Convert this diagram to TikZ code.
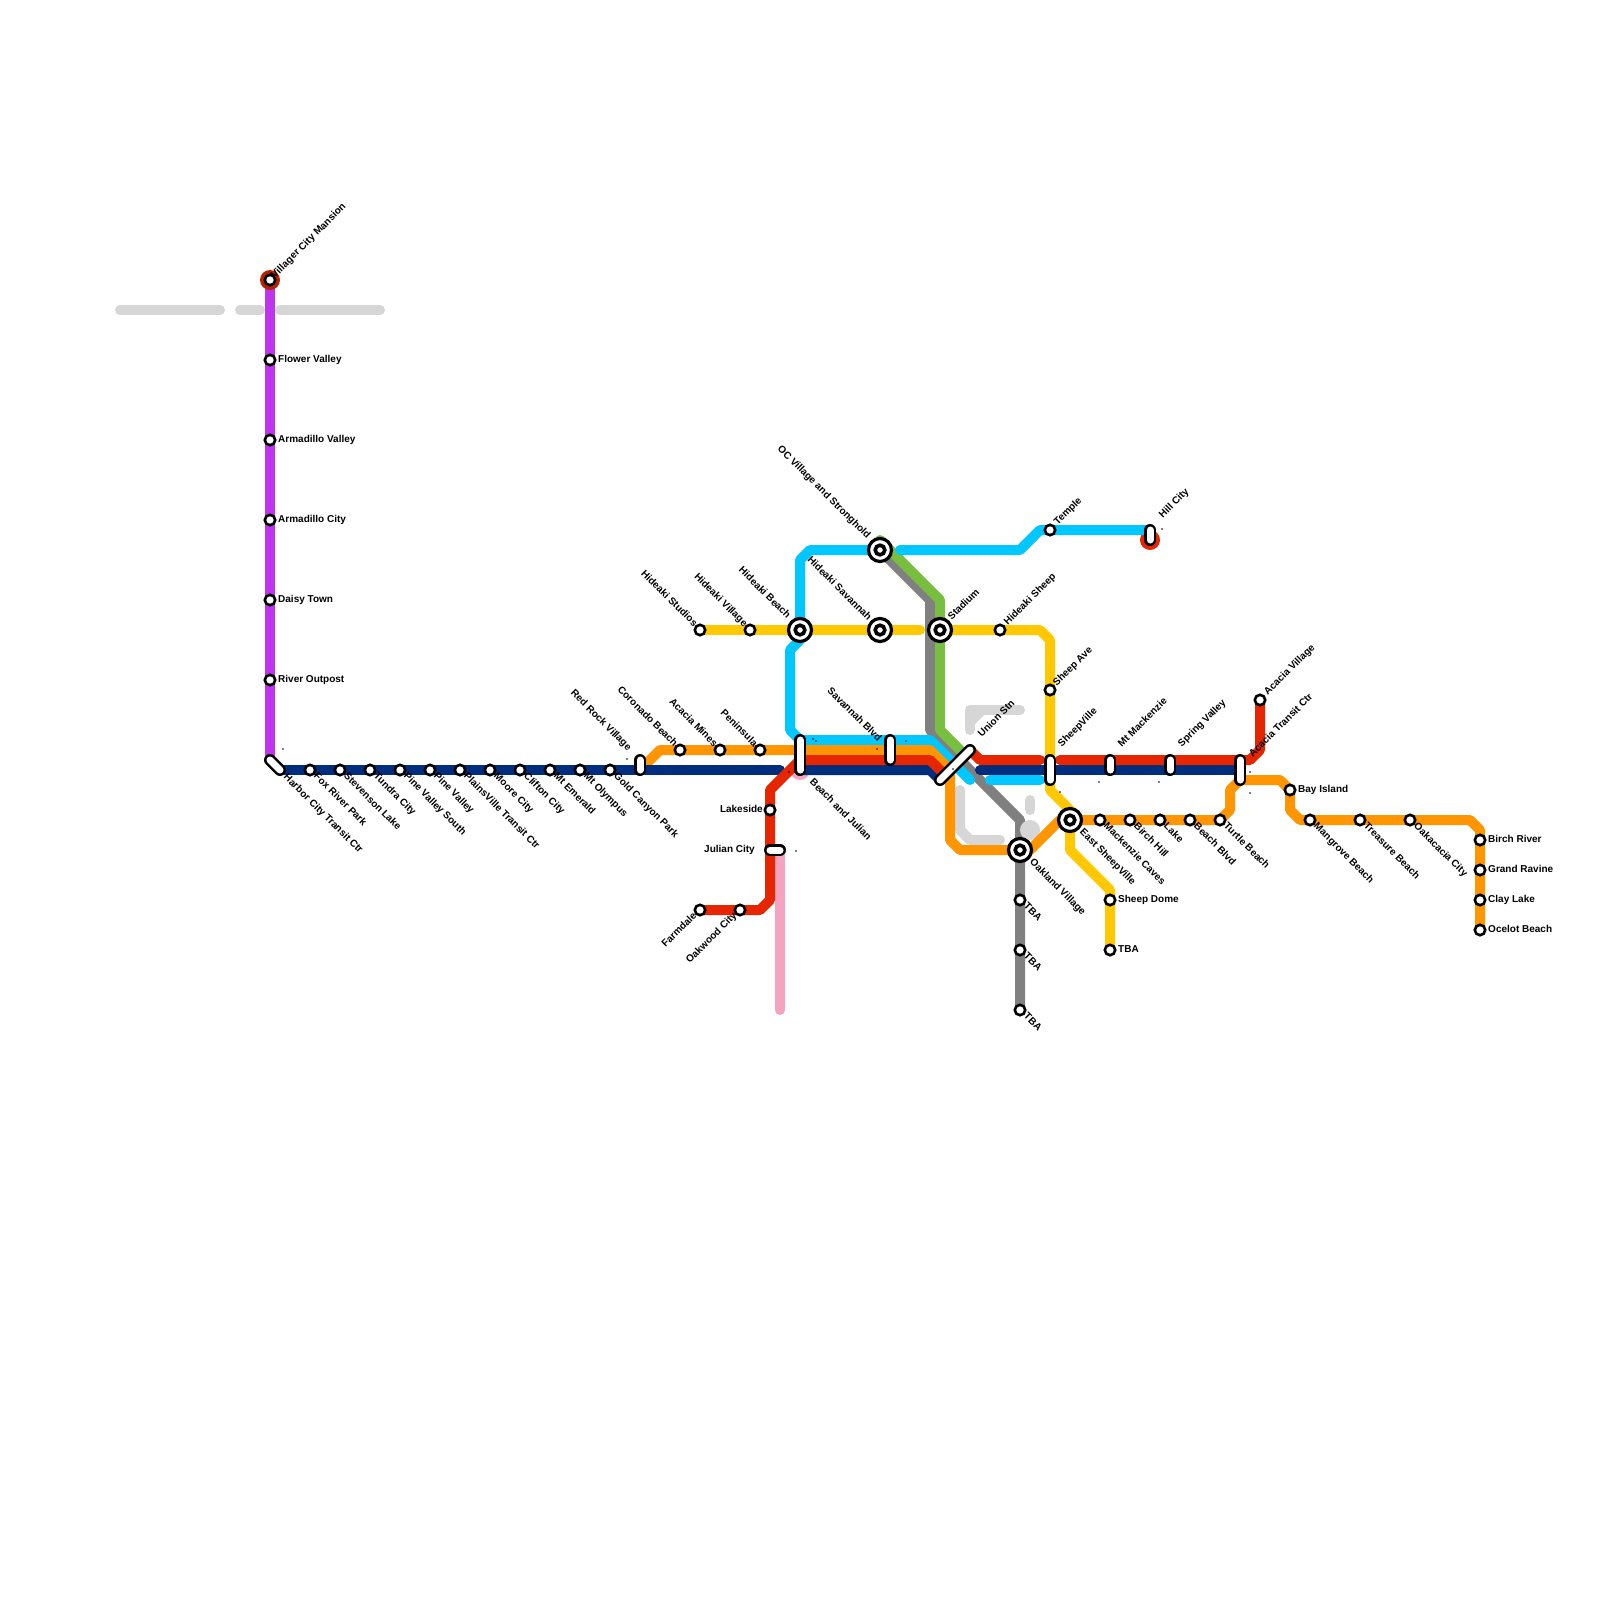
\documentclass[tikz,border=0pt]{standalone}
\usepackage{fontspec}
\setmainfont{Liberation Sans}
\usetikzlibrary{backgrounds}
\definecolor{purpleln}{HTML}{BF35EF}
\definecolor{navyln}{HTML}{002D7C}
\definecolor{redln}{HTML}{E52600}
\definecolor{darkredln}{HTML}{B52200}
\definecolor{orangeln}{HTML}{FF9500}
\definecolor{blueln}{HTML}{00C7FF}
\definecolor{yellowln}{HTML}{FFC800}
\definecolor{greenln}{HTML}{78BE40}
\definecolor{grayln}{HTML}{808080}
\definecolor{ghostln}{HTML}{D6D6D6}
\definecolor{pinkln}{HTML}{F5A3C0}
\tikzset{
  metro/.style={line width=10pt,line cap=round,line join=round},
  stn/.style={circle,draw=black,line width=2.6pt,fill=white,inner sep=0pt,minimum size=10.4pt},
  hub/.style={circle,draw=black,line width=3.2pt,fill=white,inner sep=0pt,minimum size=23pt,
    path picture={\draw[line width=3.6pt] (path picture bounding box.center) circle (4.8pt);}},
  pill/.style={line width=2.5pt,double=white,double distance=7pt,line cap=round},
  lbl/.style={font=\fontsize{10}{10}\selectfont\bfseries,inner sep=0pt,text height=7pt,text depth=2pt},
  lblne/.style={lbl,anchor=west,xshift=5pt,yshift=5pt,rotate=45},
  lblse/.style={lbl,anchor=west,xshift=5pt,yshift=-5pt,rotate=-45},
  lblnw/.style={lbl,anchor=east,xshift=-4.5pt,yshift=4.5pt,rotate=-45},
  lblsw/.style={lbl,anchor=east,xshift=-4.5pt,yshift=-4.5pt,rotate=45},
  lblr/.style={lbl,anchor=west,xshift=8pt},
  lbll/.style={lbl,anchor=east,xshift=-7pt},
}
\begin{document}
\begin{tikzpicture}[x=1pt,y=-1pt]
  \useasboundingbox (0,0) rectangle (1600,1600);
  % labels
  \node[lblne] (villagert) at (268,282) {Villager City Mansion};
  \node[lblr] (flowert) at (270,360) {Flower Valley};
  \node[lblr] (armvalleyt) at (270,440) {Armadillo Valley};
  \node[lblr] (armcityt) at (270,520) {Armadillo City};
  \node[lblr] (daisyt) at (270,600) {Daisy Town};
  \node[lblr] (outpostt) at (270,680) {River Outpost};
  \node[lblse] (harbort) at (280,771) {Harbor City Transit Ctr};
  \node[lblse] (foxt) at (310,770) {Fox River Park};
  \node[lblse] (stevensont) at (340,770) {Stevenson Lake};
  \node[lblse] (tundrat) at (370,770) {Tundra City};
  \node[lblse] (pinesoutht) at (400,770) {Pine Valley South};
  \node[lblse] (pinet) at (430,770) {Pine Valley};
  \node[lblse] (plainst) at (460,770) {PlainsVille Transit Ctr};
  \node[lblse] (mooret) at (490,770) {Moore City};
  \node[lblse] (cliftont) at (520,770) {Clifton City};
  \node[lblse] (emeraldt) at (550,770) {Mt Emerald};
  \node[lblse] (olympust) at (580,770) {Mt Olympus};
  \node[lblse] (goldt) at (610,770) {Gold Canyon Park};
  \node[lblnw] (redrockt) at (634,754) {Red Rock Village};
  \node[lblnw] (coronadot) at (680,750) {Coronado Beach};
  \node[lblnw] (acaciaminest) at (720,750) {Acacia Mines};
  \node[lblnw] (peninsulat) at (760,750) {Peninsula};
  \node[lblnw] (savblvdt) at (884,745) {Savannah Blvd};
  \node[lblse] (beachjt) at (806,776) {Beach and Julian};
  \node[lbll] (lakesidet) at (770,810) {Lakeside};
  \node[lbll] (juliant) at (762,850) {Julian City};
  \node[lblsw] (farmdalet) at (700,910) {Farmdale};
  \node[lblsw] (oakwoodt) at (740,910) {Oakwood City};
  \node[lblnw] (studiost) at (700,630) {Hideaki Studios};
  \node[lblnw] (hvillaget) at (750,630) {Hideaki Village};
  \node[lblnw] (hbeacht) at (793,622) {Hideaki Beach};
  \node[lblnw] (hsavt) at (874,624) {Hideaki Savannah};
  \node[lblnw] (oct) at (873,542) {OC Village and Stronghold};
  \node[lblne] (stadiumt) at (945,624) {Stadium};
  \node[lblne] (hsheept) at (1001,629) {Hideaki Sheep};
  \node[lblne] (templet) at (1051,529) {Temple};
  \node[lblne] (hillt) at (1156,522) {Hill City};
  \node[lblne] (sheepavet) at (1050,690) {Sheep Ave};
  \node[lblne] (unionstnt) at (975,741) {Union Stn};
  \node[lblne] (sheepvillet) at (1055,751) {SheepVille};
  \node[lblne] (mackenziet) at (1115,751) {Mt Mackenzie};
  \node[lblne] (springt) at (1175,751) {Spring Valley};
  \node[lblne] (transitt) at (1246,761) {Acacia Transit Ctr};
  \node[lblne] (acaciavt) at (1261,699) {Acacia Village};
  \node[lblse] (oaklandt) at (1026,856) {Oakland Village};
  \node[lblse] (tbaat) at (1020,900) {TBA};
  \node[lblse] (tbabt) at (1020,950) {TBA};
  \node[lblse] (tbact) at (1020,1010) {TBA};
  \node[lblse] (eastt) at (1076,826) {East SheepVille};
  \node[lblse] (cavest) at (1100,820) {Mackenzie Caves};
  \node[lblse] (bircht) at (1130,820) {Birch Hill};
  \node[lblse] (laket) at (1160,820) {Lake};
  \node[lblse] (beachbt) at (1190,820) {Beach Blvd};
  \node[lblse] (turtlet) at (1220,820) {Turtle Beach};
  \node[lblr] (domet) at (1110,900) {Sheep Dome};
  \node[lblr] (tbadt) at (1110,950) {TBA};
  \node[lblr] (bayt) at (1290,790) {Bay Island};
  \node[lblse] (mangrovet) at (1310,820) {Mangrove Beach};
  \node[lblse] (treasuret) at (1360,820) {Treasure Beach};
  \node[lblse] (oakacaciat) at (1410,820) {Oakacacia City};
  \node[lblr] (birchrt) at (1480,840) {Birch River};
  \node[lblr] (ravinet) at (1480,870) {Grand Ravine};
  \node[lblr] (clayt) at (1480,900) {Clay Lake};
  \node[lblr] (ocelott) at (1480,930) {Ocelot Beach};
  % stations
  \node[stn] (villager) at (270,280) {};
  \node[stn] (flower) at (270,360) {};
  \node[stn] (armvalley) at (270,440) {};
  \node[stn] (armcity) at (270,520) {};
  \node[stn] (daisy) at (270,600) {};
  \node[stn] (outpost) at (270,680) {};
  \node[stn] (fox) at (310,770) {};
  \node[stn] (stevenson) at (340,770) {};
  \node[stn] (tundra) at (370,770) {};
  \node[stn] (pinesouth) at (400,770) {};
  \node[stn] (pine) at (430,770) {};
  \node[stn] (plains) at (460,770) {};
  \node[stn] (moore) at (490,770) {};
  \node[stn] (clifton) at (520,770) {};
  \node[stn] (emerald) at (550,770) {};
  \node[stn] (olympus) at (580,770) {};
  \node[stn] (gold) at (610,770) {};
  \node[stn] (coronado) at (680,750) {};
  \node[stn] (acaciamines) at (720,750) {};
  \node[stn] (peninsula) at (760,750) {};
  \node[stn] (lakeside) at (770,810) {};
  \node[stn] (farmdale) at (700,910) {};
  \node[stn] (oakwood) at (740,910) {};
  \node[stn] (studios) at (700,630) {};
  \node[stn] (hvillage) at (750,630) {};
  \node[hub] (hbeach) at (800,630) {};
  \node[hub] (hsav) at (880,630) {};
  \node[hub] (oc) at (880,550) {};
  \node[hub] (stadium) at (940,630) {};
  \node[stn] (hsheep) at (1000,630) {};
  \node[stn] (temple) at (1050,530) {};
  \node[stn] (sheepave) at (1050,690) {};
  \node[stn] (acaciav) at (1260,700) {};
  \node[hub] (oakland) at (1020,850) {};
  \node[stn] (tbaa) at (1020,900) {};
  \node[stn] (tbab) at (1020,950) {};
  \node[stn] (tbac) at (1020,1010) {};
  \node[hub] (east) at (1070,820) {};
  \node[stn] (caves) at (1100,820) {};
  \node[stn] (birch) at (1130,820) {};
  \node[stn] (lake) at (1160,820) {};
  \node[stn] (beachb) at (1190,820) {};
  \node[stn] (turtle) at (1220,820) {};
  \node[stn] (dome) at (1110,900) {};
  \node[stn] (tbad) at (1110,950) {};
  \node[stn] (bay) at (1290,790) {};
  \node[stn] (mangrove) at (1310,820) {};
  \node[stn] (treasure) at (1360,820) {};
  \node[stn] (oakacacia) at (1410,820) {};
  \node[stn] (birchr) at (1480,840) {};
  \node[stn] (ravine) at (1480,870) {};
  \node[stn] (clay) at (1480,900) {};
  \node[stn] (ocelot) at (1480,930) {};
  % transfer pills
  \draw[pill] (270,760) -- (280,770);
  \draw[pill] (640,760) -- (640,770);
  \draw[pill] (800,740) -- (800,770);
  \draw[pill] (770,850) -- (780,850);
  \draw[pill] (890,740) -- (890,760);
  \draw[pill] (940,780) -- (970,750);
  \draw[pill] (1050,760) -- (1050,780);
  \draw[pill] (1110,760) -- (1110,770);
  \draw[pill] (1170,760) -- (1170,770);
  \draw[pill] (1240,760) -- (1240,780);
  \draw[pill] (1150,530) -- (1150,540);
  % specks
  \fill (283,749) circle (0.8) (627,759) circle (0.8) (813,739) circle (0.8) (816,741) circle (0.8)
    (906,741) circle (0.8) (877,749) circle (0.8) (789,772) circle (0.8) (796,851) circle (0.8)
    (953,769) circle (0.8) (1099,782) circle (0.8) (1159,782) circle (0.8) (1060,792) circle (0.8)
    (1250,772) circle (0.8) (1250,793) circle (0.8) (1162,529) circle (0.8);
  % lines
  \begin{scope}[on background layer]
    \fill[white] (0,0) rectangle (1600,1600);
    \draw[metro,ghostln] (120,310) -- (220,310);
    \draw[metro,ghostln] (240,310) -- (260,310);
    \draw[metro,ghostln] (280,310) -- (380,310);
    \draw[metro,ghostln] (970,730) -- (970,710) -- (1020,710);
    \fill[ghostln] (974,714) -- (985,714) -- (974,725) -- cycle;
    \draw[metro,ghostln] (960,790) -- (960,830) -- (970,840) -- (1000,840);
    \draw[metro,ghostln] (1030,800) -- (1030,810);
    \fill[redln] (1150,540) circle (10);
    \fill[pinkln] (800,770) circle (10);
    \draw[metro,pinkln] (780,850) -- (780,1010);
    \draw[metro,grayln] (oc.center) -- (930,600) -- (930,730) -- (1020,820) -- (tbac.center);
    \fill[ghostln] (1030,830) circle (10);
    \draw[metro,greenln] (880,540) -- (940,600) -- (940,730) -- (960,750);
    \draw[metro,blueln] (1150,530) -- (temple.center) -- (1040,530) -- (1020,550) -- (900,550);
    \draw[metro,blueln] (oc.center) -- (810,550) -- (800,560) -- (hbeach.center) -- (800,640) -- (790,650)
      -- (790,730) -- (800,740) -- (930,740) -- (970,780);
    \draw[metro,blueln] (990,780) -- (1040,780);
    \draw[metro,orangeln] (640,770) -- (660,750) -- (peninsula.center) -- (930,750) -- (950,770) -- (950,840)
      -- (960,850) -- (oakland.center) -- (1030,850) -- (1060,820) -- (east.center) -- (turtle.center)
      -- (1230,810) -- (1230,790) -- (1240,780) -- (1280,780) -- (bay.center) -- (1290,810) -- (1300,820)
      -- (1470,820) -- (1480,830) -- (ocelot.center);
    \draw[metro,navyln] (280,770) -- (780,770);
    \draw[metro,navyln] (800,770) -- (930,770) -- (940,780);
    \draw[metro,navyln] (980,770) -- (1240,770);
    \draw[metro,redln] (farmdale.center) -- (760,910) -- (770,900) -- (lakeside.center) -- (770,790) -- (800,760)
      -- (930,760) -- (945,775);
    \draw[metro,redln] (970,750) -- (980,760) -- (1040,760);
    \draw[metro,redln] (1060,760) -- (1250,760) -- (1260,750) -- (acaciav.center);
    \draw[metro,yellowln] (studios.center) -- (920,630);
    \draw[metro,yellowln] (stadium.center) -- (1040,630) -- (1050,640) -- (1050,790) -- (1070,810) -- (east.center)
      -- (1070,850) -- (1110,890) -- (tbad.center);
    \draw[metro,purpleln] (villager.center) -- (270,760);
    \fill[darkredln] (villager.center) circle (10);
  \end{scope}
\end{tikzpicture}
\end{document}
